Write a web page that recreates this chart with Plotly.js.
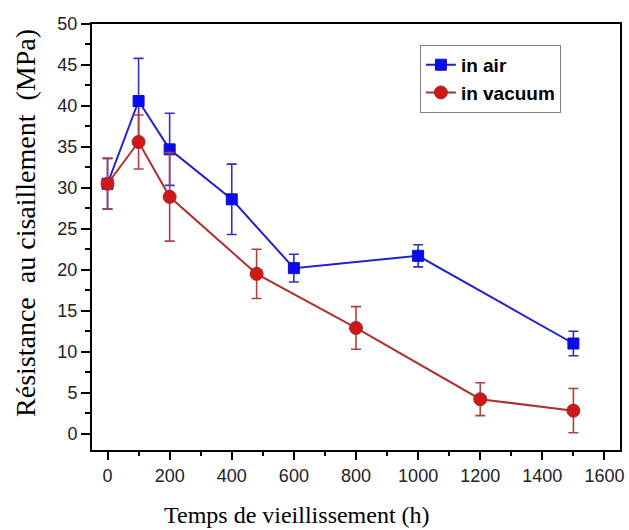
<!DOCTYPE html>
<html>
<head>
<meta charset="utf-8">
<script src="https://cdn.plot.ly/plotly-3.0.1.min.js"></script>
<style>html,body{margin:0;padding:0;background:#fff;}#chart{width:629px;height:530px;}</style>
</head>
<body>
<div id="chart"></div>
<script>
// Data
const airTime = [0, 100, 200, 400, 600, 1000, 1500];
const airStrength = [30.5, 40.6, 34.7, 28.6, 20.2, 21.7, 11.0];
const airError = [3.1, 5.2, 4.4, 4.3, 1.7, 1.35, 1.5];

const vacuumTime = [0, 100, 200, 480, 800, 1200, 1500];
const vacuumStrength = [30.5, 35.6, 28.9, 19.5, 12.9, 4.2, 2.8];
const vacuumError = [3.1, 3.3, 5.4, 3.0, 2.6, 2.0, 2.7];

const seriesNames = ["in air", "in vacuum"];
const xTitle = "Temps de vieillissement (h)";
const yTitle = "Résistance  au cisaillement  (MPa)";

const traces = [
  {
    x: airTime, y: airStrength, name: seriesNames[0], type: "scatter", mode: "lines+markers",
    line: {color: "#2020D0", width: 2},
    marker: {symbol: "square", size: 11, color: "#0A0AF0", line: {color: "#1010C0", width: 1}},
    error_y: {type: "data", array: airError, visible: true, color: "#3030C0", thickness: 1.6, width: 5}
  },
  {
    x: vacuumTime, y: vacuumStrength, name: seriesNames[1], type: "scatter", mode: "lines+markers",
    line: {color: "#B03030", width: 2},
    marker: {symbol: "circle", size: 13, color: "#D01818", line: {color: "#A02828", width: 1}},
    error_y: {type: "data", array: vacuumError, visible: true, color: "#B04040", thickness: 1.6, width: 5}
  }
];

const serif = "Liberation Serif, Times New Roman, serif";

const layout = {
  width: 629, height: 530,
  margin: {l: 92, r: 9, t: 24, b: 80},
  paper_bgcolor: "#fff", plot_bgcolor: "#fff",
  showlegend: true,
  legend: {
    x: 0.621, y: 0.951, xanchor: "left", yanchor: "top",
    bgcolor: "#fff", bordercolor: "#808080", borderwidth: 1,
    font: {family: "Liberation Sans, Arial, sans-serif", size: 19, color: "#000", weight: "bold"},
    tracegroupgap: 0
  },
  xaxis: {
    range: [-50, 1650],
    tickvals: [0, 200, 400, 600, 800, 1000, 1200, 1400, 1600],
    ticks: "outside", ticklen: 8, tickwidth: 2, tickcolor: "#000",
    minor: {dtick: 100, tick0: 0, ticks: "outside", ticklen: 4, tickwidth: 2, tickcolor: "#000"},
    showline: true, linecolor: "#000", linewidth: 2, mirror: true,
    showgrid: false, zeroline: false,
    tickfont: {family: "Liberation Sans, Arial, sans-serif", size: 18, color: "#222"}
  },
  yaxis: {
    range: [-2, 50],
    tickvals: [0, 5, 10, 15, 20, 25, 30, 35, 40, 45, 50],
    ticks: "outside", ticklen: 9, tickwidth: 2, tickcolor: "#000",
    minor: {dtick: 2.5, tick0: 0, ticks: "outside", ticklen: 5, tickwidth: 2, tickcolor: "#000"},
    showline: true, linecolor: "#000", linewidth: 2, mirror: true,
    showgrid: false, zeroline: false,
    tickfont: {family: "Liberation Sans, Arial, sans-serif", size: 18, color: "#222"}
  },
  annotations: [
    {text: xTitle, xref: "paper", yref: "paper", x: 0.388, y: -0.1526, xanchor: "center", yanchor: "middle",
     showarrow: false, font: {family: serif, size: 24, color: "#000"}},
    {text: yTitle, xref: "paper", yref: "paper", x: -0.125, y: 0.533, xanchor: "center", yanchor: "middle",
     textangle: -90, showarrow: false, font: {family: serif, size: 28, color: "#000"}}
  ]
};

Plotly.newPlot("chart", traces, layout, {displayModeBar: false, staticPlot: true});
</script>
</body>
</html>
